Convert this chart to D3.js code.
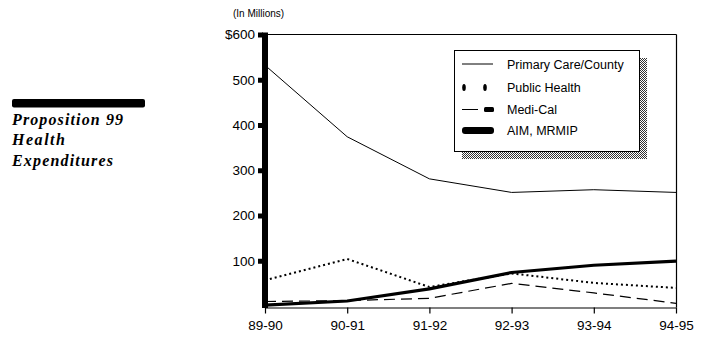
<!DOCTYPE html>
<html><head><meta charset="utf-8">
<script src="https://cdn.jsdelivr.net/npm/d3@7"></script>
<style>body{margin:0;background:#fff}svg{display:block}text{font-family:"Liberation Sans",Arial,sans-serif}</style>
</head><body>
<script>
const categories = ["89-90","90-91","91-92","92-93","93-94","94-95"];
const primaryCare = [532, 374, 281, 251, 257, 251];
const publicHealth = [57, 104, 42, 72, 51, 40];
const mediCal = [10, 12, 17, 50, 29, 6];
const aimMrmip = [2, 11, 38, 74, 90, 99];
const yTicks = [100, 200, 300, 400, 500, 600];
const yTickLabels = ["100","200","300","400","500","$600"];
const seriesNames = ["Primary Care/County","Public Health","Medi-Cal","AIM, MRMIP"];
const titleLines = ["Proposition 99","Health","Expenditures"];

const W = 709, H = 357;
const svg = d3.select("body").append("svg").attr("width", W).attr("height", H);

const defs = svg.append("defs");
const pat = defs.append("pattern").attr("id","dither").attr("width",2).attr("height",2).attr("patternUnits","userSpaceOnUse");
pat.append("rect").attr("width",2).attr("height",2).attr("fill","#fff");
pat.append("rect").attr("width",1).attr("height",1).attr("fill","#000");
pat.append("rect").attr("x",1).attr("y",1).attr("width",1).attr("height",1).attr("fill","#000");

const x = d3.scalePoint().domain(categories).range([265, 676]);
const y = d3.scaleLinear().domain([0, 600]).range([306, 34.5]);

// frame top & right
svg.append("line").attr("x1",265).attr("x2",676.5).attr("y1",y(600)).attr("y2",y(600)).attr("stroke","#000").attr("stroke-width",1.2);
svg.append("line").attr("x1",676.5).attr("x2",676.5).attr("y1",y(600)).attr("y2",307.5).attr("stroke","#000").attr("stroke-width",1.2);

// bottom axis
const xAxis = d3.axisBottom(x).tickSize(6).tickSizeOuter(0).tickPadding(6);
const gx = svg.append("g").attr("transform","translate(0,307.5)").call(xAxis);
gx.select(".domain").attr("stroke","#000").attr("stroke-width",1.2);
gx.selectAll(".tick line").attr("stroke","#000").attr("stroke-width",1.2);
gx.selectAll(".tick text").style("font-size","13.5px").attr("fill","#000").attr("dy","0.75em");

// left axis
const yAxis = d3.axisLeft(y).tickValues(yTicks).tickFormat((d,i)=>yTickLabels[i]).tickSize(0).tickPadding(10);
const gy = svg.append("g").attr("transform","translate(265,0)").call(yAxis);
gy.select(".domain").remove();
gy.selectAll(".tick text").style("font-size","13.5px").attr("fill","#000");
gy.selectAll(".tick").append("rect").attr("x",-7).attr("y",-2.5).attr("width",5).attr("height",5).attr("fill","#000");
svg.append("rect").attr("x",262).attr("y",y(600)-2).attr("width",6).attr("height",308-y(600)+2).attr("fill","#000");

svg.append("text").attr("x",233).attr("y",17).style("font-size","10px").text("(In Millions)");

// lines
const line = d3.line().x((d,i)=>x(categories[i])).y(d=>y(d));
svg.append("path").datum(primaryCare).attr("d",line).attr("fill","none").attr("stroke","#000").attr("stroke-width",1);
svg.append("path").datum(publicHealth).attr("d",line).attr("fill","none").attr("stroke","#000").attr("stroke-width",2).attr("stroke-dasharray","2,3");
svg.append("path").datum(mediCal).attr("d",line).attr("fill","none").attr("stroke","#000").attr("stroke-width",1.2).attr("stroke-dasharray","11,6");
svg.append("path").datum(aimMrmip).attr("d",line).attr("fill","none").attr("stroke","#000").attr("stroke-width",3.2);

// legend
const lg = svg.append("g");
lg.append("rect").attr("x",462).attr("y",58).attr("width",185).attr("height",101).attr("fill","url(#dither)").attr("opacity",0.8);
lg.append("rect").attr("x",454.5).attr("y",50.5).attr("width",185).attr("height",101).attr("fill","#fff").attr("stroke","#000").attr("stroke-width",1);
const rowsY = [64, 87.5, 109.5, 130.5];
lg.append("line").attr("x1",462).attr("x2",493).attr("y1",rowsY[0]).attr("y2",rowsY[0]).attr("stroke","#000");
[464,485].forEach(cx=>lg.append("ellipse").attr("cx",cx).attr("cy",rowsY[1]).attr("rx",1.8).attr("ry",3.5).attr("fill","#000"));
lg.append("line").attr("x1",462).attr("x2",478).attr("y1",rowsY[2]).attr("y2",rowsY[2]).attr("stroke","#000");
lg.append("rect").attr("x",484).attr("y",rowsY[2]-2.5).attr("width",10).attr("height",5).attr("rx",1.5).attr("fill","#000");
lg.append("rect").attr("x",462).attr("y",rowsY[3]-3.5).attr("width",32).attr("height",7).attr("rx",3).attr("fill","#000");
seriesNames.forEach((n,i)=>lg.append("text").attr("x",507).attr("y",rowsY[i]).attr("dy","0.36em").style("font-size","12.5px").text(n));

// title
svg.append("rect").attr("x",12).attr("y",99).attr("width",133).attr("height",8.5).attr("rx",2).attr("fill","#000");
const tw = [111, 53, 101];
titleLines.forEach((t,i)=>svg.append("text").attr("x",12).attr("y",124.5+i*20.7)
  .style("font-family","'Liberation Serif','Times New Roman',serif").style("font-style","italic").style("font-weight","bold")
  .style("font-size","16px").attr("textLength",tw[i]).attr("lengthAdjust","spacing").text(t));
</script>
</body></html>
